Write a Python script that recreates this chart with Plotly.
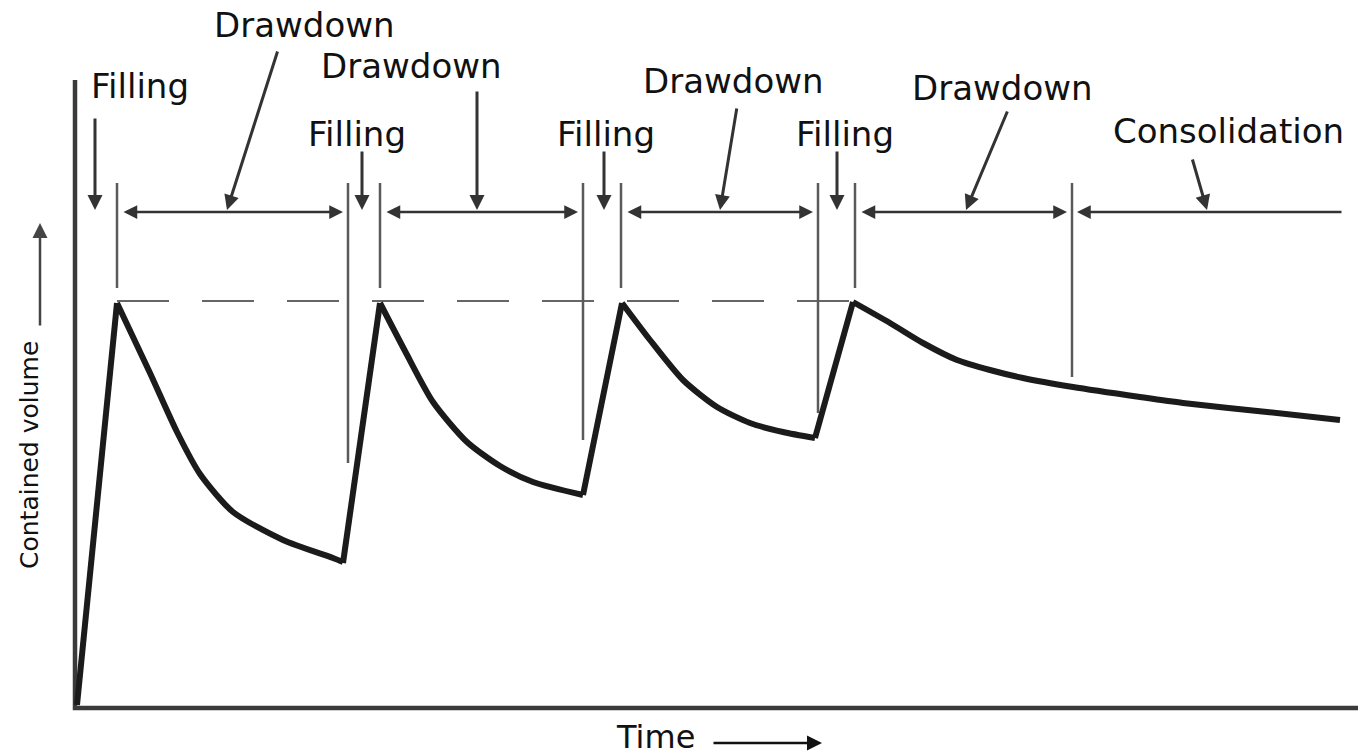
import plotly.graph_objects as go

# ---- Contained volume curve (time units, volume units) ----
fill_t = [[2, 42], [268, 305], [508, 547], [740, 778]]
fill_v = [[3, 405], [145, 405], [213, 405], [270, 406]]
draw_t = [[42, 75, 102, 125, 158, 208, 258, 268],
          [305, 330, 358, 392, 425, 458, 508],
          [547, 575, 608, 642, 675, 708, 740],
          [778, 815, 848, 882, 915, 948, 998, 1065, 1108, 1192, 1265]]
draw_v = [[405, 335, 276, 234, 196, 168, 150, 146],
          [405, 357, 306, 266, 242, 226, 213],
          [405, 368, 328, 301, 285, 276, 270],
          [406, 385, 365, 348, 338, 330, 321, 311, 305, 296, 288]]

# ---- Phase boundary markers ----
marker_t = [42, 273, 305, 508, 546, 743, 780, 997]
marker_top = 525
marker_bottom = [420, 245, 420, 268, 420, 295, 420, 331]
peak_level = 407
peak_level_t = [42, 780]

# ---- Phase span arrows ----
span_level = 496
span_start = [42, 305, 546, 780, 997]
span_end = [273, 508, 743, 997, 1268]
span_kind = ["both", "both", "both", "both", "start"]

# ---- Phase labels and pointers ----
label_text = ["Filling", "Drawdown", "Drawdown", "Filling", "Filling",
              "Drawdown", "Filling", "Drawdown", "Consolidation"]
label_t = [65, 229, 336, 282, 531, 658, 770, 927, 1153]
label_v = [622, 683, 642, 574, 574, 627, 574, 620, 577]
ptr_tail_t = [20, 203, 402, 287, 529, 662, 762, 933, 1117]
ptr_tail_v = [591, 658, 618, 558, 558, 601, 558, 598, 550]
ptr_head_t = [20, 152, 402, 287, 529, 645, 762, 891, 1132]
ptr_head_v = [498, 498, 498, 498, 498, 498, 498, 498, 498]

# ---- Axes (frame) ----
axis_t_end = 1290
axis_v_top = 628

CURVE = "#1b1b1b"
DARK = "#333333"
FONT = "DejaVu Sans"

fig = go.Figure()

# axes frame
fig.add_trace(go.Scatter(x=[0, 0, axis_t_end], y=[axis_v_top, 0, 0], mode="lines",
                         line=dict(color="#3a3a3a", width=4.5), hoverinfo="skip"))

# dashed peak level
fig.add_trace(go.Scatter(x=peak_level_t, y=[peak_level, peak_level], mode="lines",
                         line=dict(color="#666666", width=2, dash="52px,33px"), hoverinfo="skip"))

# markers
for t, b in zip(marker_t, marker_bottom):
    fig.add_trace(go.Scatter(x=[t, t], y=[marker_top, b], mode="lines",
                             line=dict(color="#5a5a5a", width=2.5), hoverinfo="skip"))

# curve
for t, v in zip(fill_t, fill_v):
    fig.add_trace(go.Scatter(x=t, y=v, mode="lines",
                             line=dict(color=CURVE, width=6), hoverinfo="skip"))
for t, v in zip(draw_t, draw_v):
    fig.add_trace(go.Scatter(x=t, y=v, mode="lines",
                             line=dict(color=CURVE, width=6, shape="spline", smoothing=0.7),
                             hoverinfo="skip"))

# span arrows
for s, e, k in zip(span_start, span_end, span_kind):
    if k == "both":
        fig.add_annotation(x=e, y=span_level, ax=s, ay=span_level, axref="x", ayref="y",
                           xref="x", yref="y", text="", showarrow=True, arrowhead=2,
                           startarrowhead=2, arrowside="end+start", arrowsize=1.1,
                           startarrowsize=1.1, arrowwidth=2.5, arrowcolor=DARK,
                           standoff=5, startstandoff=5)
    else:
        fig.add_annotation(x=s, y=span_level, ax=e, ay=span_level, axref="x", ayref="y",
                           xref="x", yref="y", text="", showarrow=True, arrowhead=2,
                           arrowsize=1.1, arrowwidth=2.5, arrowcolor=DARK, standoff=5)

# label pointers
for tt, tv, ht, hv in zip(ptr_tail_t, ptr_tail_v, ptr_head_t, ptr_head_v):
    fig.add_annotation(x=ht, y=hv, ax=tt, ay=tv, axref="x", ayref="y", xref="x", yref="y",
                       text="", showarrow=True, arrowhead=2, arrowsize=1, arrowwidth=3,
                       arrowcolor=DARK)

# labels
for txt, t, v in zip(label_text, label_t, label_v):
    fig.add_annotation(x=t, y=v, xref="x", yref="y", text=txt, showarrow=False,
                       font=dict(family=FONT, size=34, color="#111111"),
                       xanchor="center", yanchor="middle")

# axis titles with arrows
fig.add_annotation(x=580, y=-29, xref="x", yref="y", text="Time", showarrow=False,
                   font=dict(family=FONT, size=32, color="#111111"))
fig.add_annotation(x=747, y=-35, ax=637, ay=-35, axref="x", ayref="y", xref="x", yref="y",
                   text="", showarrow=True, arrowhead=2, arrowsize=1.2, arrowwidth=2.5,
                   arrowcolor="#111111")
fig.add_annotation(x=-46, y=253, xref="x", yref="y", text="Contained volume", showarrow=False,
                   textangle=-90, font=dict(family=FONT, size=25, color="#111111"))
fig.add_annotation(x=-35, y=485, ax=-35, ay=381, axref="x", ayref="y", xref="x", yref="y",
                   text="", showarrow=True, arrowhead=2, arrowsize=1.2, arrowwidth=2.5,
                   arrowcolor="#444444")

fig.update_layout(
    width=1358, height=756, autosize=False,
    margin=dict(l=0, r=0, t=0, b=0),
    paper_bgcolor="white", plot_bgcolor="white",
    showlegend=False,
    xaxis=dict(range=[-75, 1283], visible=False, fixedrange=True),
    yaxis=dict(range=[-48, 708], visible=False, fixedrange=True),
)

# remove the default page margin so the figure fills the window exactly
fig.write_html("out.html",
               config={"displayModeBar": False, "staticPlot": True},
               post_script="document.body.style.margin='0';document.body.style.overflow='hidden';")
